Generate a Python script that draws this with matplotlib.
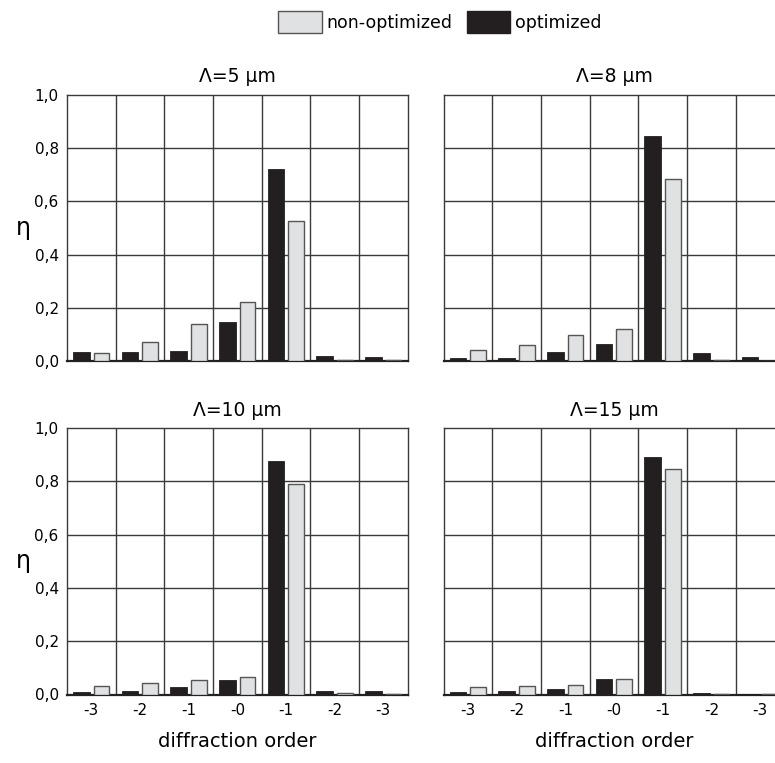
import numpy as np
from matplotlib import pyplot as plt
from matplotlib.patches import Patch

# diffraction orders (tick labels as printed)
orders = ['-3', '-2', '-1', '-0', '-1', '-2', '-3']
titles = ['Λ=5 µm', 'Λ=8 µm', 'Λ=10 µm', 'Λ=15 µm']

# efficiency per order, optimized (black) and non-optimized (gray)
opt_5 = [0.034, 0.034, 0.039, 0.147, 0.720, 0.019, 0.014]
non_5 = [0.029, 0.071, 0.140, 0.222, 0.526, 0.005, 0.003]

opt_8 = [0.013, 0.013, 0.035, 0.064, 0.844, 0.031, 0.017]
non_8 = [0.041, 0.062, 0.097, 0.119, 0.683, 0.003, 0.001]

opt_10 = [0.008, 0.012, 0.029, 0.055, 0.876, 0.012, 0.012]
non_10 = [0.033, 0.045, 0.056, 0.065, 0.790, 0.005, 0.003]

opt_15 = [0.011, 0.014, 0.022, 0.057, 0.893, 0.005, 0.003]
non_15 = [0.027, 0.033, 0.035, 0.058, 0.845, 0.003, 0.002]

optimized = [opt_5, opt_8, opt_10, opt_15]
non_optimized = [non_5, non_8, non_10, non_15]

c_black = '#231f20'
c_gray = '#e0e1e2'
c_line = '#3a3a3a'

plt.rcParams['font.family'] = ['DejaVu Sans']

fig = plt.figure(figsize=(7.75, 7.63), dpi=100)

W, H = 775, 763
boxes = [(67, 94.7), (443.7, 94.7), (67, 428), (443.7, 428)]
pw, ph = 340.7, 266.5

x = np.arange(len(orders))
for i, (px, py) in enumerate(boxes):
    ax = fig.add_axes([px / W, 1 - (py + ph) / H, pw / W, ph / H])
    ax.bar(x - 0.205, optimized[i], width=0.34, color=c_black,
           edgecolor=c_black, linewidth=0.6, zorder=3)
    ax.bar(x + 0.21, non_optimized[i], width=0.32, color=c_gray,
           edgecolor='#555555', linewidth=1.0, zorder=3)
    ax.set_xlim(-0.5, len(orders) - 0.5)
    ax.set_ylim(0, 1.0)
    for xv in np.arange(0.5, len(orders) - 0.5, 1):
        ax.axvline(xv, color=c_line, lw=1.0, zorder=1)
    for yv in [0.2, 0.4, 0.6, 0.8]:
        ax.axhline(yv, color=c_line, lw=1.0, zorder=1)
    for s in ax.spines.values():
        s.set_color(c_line)
        s.set_linewidth(1.0)
    ax.spines['bottom'].set_linewidth(1.6)
    ax.spines['bottom'].set_color('#222222')
    ax.set_title(titles[i], fontsize=13.5, pad=9)
    ax.tick_params(length=0, labelsize=11, pad=6)
    ax.set_yticks([0, 0.2, 0.4, 0.6, 0.8, 1.0])
    if i % 2 == 0:
        ax.set_yticklabels(['0,0', '0,2', '0,4', '0,6', '0,8', '1,0'])
        ax.set_ylabel('η', fontsize=17, rotation=0, labelpad=8, va='center')
    else:
        ax.set_yticklabels([])
        ax.spines['right'].set_visible(False)
    ax.set_xticks(x)
    if i >= 2:
        ax.set_xticklabels(orders)
        ax.set_xlabel('diffraction order', fontsize=14, labelpad=10)
    else:
        ax.set_xticklabels([])

handles = [Patch(facecolor=c_gray, edgecolor='#555555', linewidth=1.0, label='non-optimized'),
           Patch(facecolor=c_black, edgecolor=c_black, label='optimized')]
fig.legend(handles=handles, loc='center', bbox_to_anchor=(440 / W, 1 - 22 / H),
           ncol=2, frameon=False, fontsize=12.5, handlelength=2.5, handleheight=1.5,
           handletextpad=0.3, columnspacing=0.8)

fig.savefig('out.png', dpi=100)
